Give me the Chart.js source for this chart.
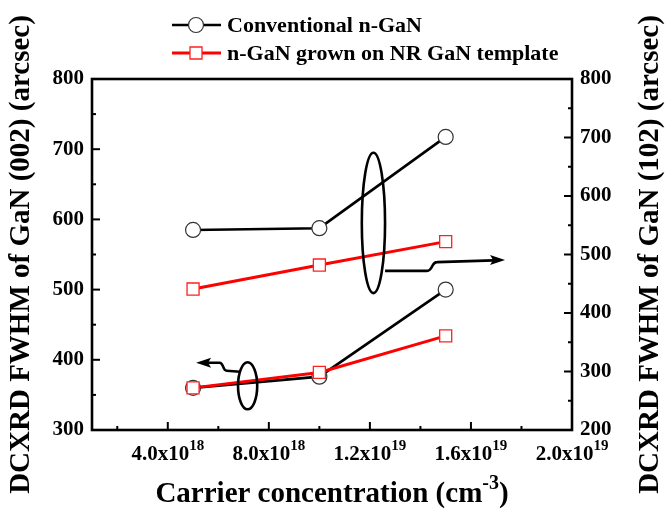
<!DOCTYPE html>
<html><head><meta charset="utf-8">
<script src="https://cdn.jsdelivr.net/npm/chart.js@4"></script>
<style>html,body{margin:0;padding:0;background:#fff}#wrap{width:666px;height:508px}</style>
</head><body><div id="wrap"><canvas id="c" width="666" height="508"></canvas></div>
<script>
// ---- data ----
const carrier = [5e18, 1e19, 1.5e19];
const conv002 = [360, 376, 500];
const nr002 = [360, 382, 434];
const conv102 = [542, 545, 701];
const nr102 = [441, 482, 522];
const xTickValues = [4e18, 8e18, 1.2e19, 1.6e19, 2.0e19];
const xTickBases = ['4.0x10', '8.0x10', '1.2x10', '1.6x10', '2.0x10'];
const xTickExps = ['18', '18', '19', '19', '19'];
const seriesNames = ['Conventional n-GaN', 'n-GaN grown on NR GaN template'];
const xTitleBase = 'Carrier concentration (cm';
const xTitleExp = '-3';
const xTitleEnd = ')';
const yTitle = 'DCXRD FWHM of GaN (002) (arcsec)';
const y1Title = 'DCXRD FWHM of GaN (102) (arcsec)';

const FONT = '"Liberation Serif", "Times New Roman", serif';
const toXY = (ys) => carrier.map((c, i) => ({x: c, y: ys[i]}));

const black = {borderColor: '#000', pointStyle: 'circle', pointRadius: 7.5, pointBorderWidth: 1.2,
  pointBackgroundColor: '#fff', pointBorderColor: '#333', borderWidth: 2.6, order: 2};
const red = {borderColor: '#ff0000', pointStyle: 'rect', pointRadius: 8.5, pointBorderWidth: 1.3,
  pointBackgroundColor: '#fff', pointBorderColor: '#ff2020', borderWidth: 3, order: 1};

// legend drawn as line + marker + text
const legendPlugin = {
  id: 'legend2',
  afterDraw(chart) {
    const ctx = chart.ctx;
    const styles = [black, red];
    ctx.save();
    seriesNames.forEach((name, i) => {
      const yy = 25 + i * 28;
      const st = styles[i];
      ctx.strokeStyle = st.borderColor; ctx.lineWidth = st.borderWidth;
      ctx.beginPath(); ctx.moveTo(172, yy); ctx.lineTo(221, yy); ctx.stroke();
      ctx.fillStyle = st.pointBackgroundColor; ctx.strokeStyle = st.pointBorderColor; ctx.lineWidth = st.pointBorderWidth;
      ctx.beginPath();
      if (st.pointStyle === 'circle') ctx.arc(196, yy, st.pointRadius, 0, Math.PI * 2);
      else { const h = st.pointRadius * Math.SQRT1_2; ctx.rect(196 - h, yy - h, 2 * h, 2 * h); }
      ctx.fill(); ctx.stroke();
      ctx.fillStyle = '#000'; ctx.font = 'bold 22px ' + FONT; ctx.textBaseline = 'middle'; ctx.textAlign = 'left';
      ctx.fillText(name, 227, yy + 1);
    });
    ctx.restore();
  }
};

// draw text with a superscript part, centred on cx, baseline at by
function supText(ctx, cx, by, base, exp, end, size, expSize, rise) {
  ctx.font = 'bold ' + size + 'px ' + FONT;
  const wb = ctx.measureText(base).width, we2 = end ? ctx.measureText(end).width : 0;
  ctx.font = 'bold ' + expSize + 'px ' + FONT;
  const we = ctx.measureText(exp).width;
  let x0 = cx - (wb + we + we2) / 2;
  ctx.textAlign = 'left'; ctx.textBaseline = 'alphabetic'; ctx.fillStyle = '#000';
  ctx.font = 'bold ' + size + 'px ' + FONT; ctx.fillText(base, x0, by);
  ctx.font = 'bold ' + expSize + 'px ' + FONT; ctx.fillText(exp, x0 + wb, by - rise);
  if (end) { ctx.font = 'bold ' + size + 'px ' + FONT; ctx.fillText(end, x0 + wb + we, by); }
}

// frame, inward ticks, tick labels with exponents, titles, annotations
const framePlugin = {
  id: 'frame',
  afterDatasetsDraw(chart) {
    const {ctx, chartArea: a, scales: {x, y, y1}} = chart;
    ctx.save();
    ctx.strokeStyle = '#000'; ctx.lineWidth = 2.6; ctx.lineCap = 'butt';
    ctx.strokeRect(a.left, a.top, a.right - a.left, a.bottom - a.top);
    ctx.lineWidth = 2;
    for (let v = 2e18; v <= 2.0e19 + 1; v += 2e18) {
      const px = x.getPixelForValue(v);
      const major = Math.abs((v / 4e18) - Math.round(v / 4e18)) < 1e-6;
      ctx.beginPath(); ctx.moveTo(px, a.bottom); ctx.lineTo(px, a.bottom - (major ? 8 : 4)); ctx.stroke();
    }
    for (let v = 300; v <= 800; v += 50) {
      const py = y.getPixelForValue(v); const major = v % 100 === 0;
      ctx.beginPath(); ctx.moveTo(a.left, py); ctx.lineTo(a.left + (major ? 8 : 4), py); ctx.stroke();
    }
    for (let v = 200; v <= 800; v += 50) {
      const py = y1.getPixelForValue(v); const major = v % 100 === 0;
      ctx.beginPath(); ctx.moveTo(a.right, py); ctx.lineTo(a.right - (major ? 8 : 4), py); ctx.stroke();
    }
    // x tick labels
    xTickValues.forEach((v, i) => supText(ctx, x.getPixelForValue(v), a.bottom + 30, xTickBases[i], xTickExps[i], '', 21, 15, 10));
    // x title
    supText(ctx, (a.left + a.right) / 2, 502, xTitleBase, xTitleExp, xTitleEnd, 29, 20, 13);
    // annotations (in data units)
    ctx.lineWidth = 2.6;
    const ell = (sx, sy, cx, cy, rx, ry) => {
      const px = sx.getPixelForValue(cx), py = sy.getPixelForValue(cy);
      const w = Math.abs(sx.getPixelForValue(cx + rx) - px), h = Math.abs(sy.getPixelForValue(cy + ry) - py);
      ctx.beginPath(); ctx.ellipse(px, py, w, h, 0, 0, Math.PI * 2); ctx.stroke();
    };
    const arrow = (sy, pts, tip) => {
      const P = pts.map(p => [x.getPixelForValue(p[0]), sy.getPixelForValue(p[1])]);
      const T = [x.getPixelForValue(tip[0]), sy.getPixelForValue(tip[1])];
      ctx.beginPath(); ctx.moveTo(P[0][0], P[0][1]);
      ctx.lineTo(P[1][0], P[1][1]);
      ctx.bezierCurveTo(P[1][0] + (P[2][0] - P[1][0]) * 0.6, P[1][1], P[1][0] + (P[2][0] - P[1][0]) * 0.4, P[2][1], P[2][0], P[2][1]);
      ctx.lineTo(P[3][0], P[3][1]); ctx.stroke();
      const dir = Math.sign(T[0] - P[3][0]);
      ctx.beginPath(); ctx.moveTo(T[0], T[1]);
      ctx.lineTo(T[0] - dir * 15, T[1] - 5); ctx.lineTo(T[0] - dir * 12, T[1]); ctx.lineTo(T[0] - dir * 15, T[1] + 5);
      ctx.closePath(); ctx.fillStyle = '#000'; ctx.fill();
    };
    ell(x, y1, 1.214e19, 554, 0.46e18, 120);
    arrow(y1, [[12.6e18, 472], [14.26e18, 472], [14.66e18, 487], [16.9e18, 490]], [17.35e18, 490.6]);
    ell(x, y, 7.16e18, 363, 0.38e18, 33.5);
    arrow(y, [[6.86e18, 383], [6.33e18, 384.5], [6.05e18, 395.9], [5.5e18, 395.9]], [5.12e18, 395.9]);
    // y titles, reading bottom-to-top
    [[22, yTitle], [651, y1Title]].forEach(([tx, t]) => {
      ctx.save();
      ctx.translate(tx, (a.top + a.bottom) / 2);
      ctx.rotate(-Math.PI / 2);
      ctx.fillStyle = '#000'; ctx.font = 'bold 29px ' + FONT; ctx.textAlign = 'center'; ctx.textBaseline = 'middle';
      ctx.fillText(t, 0, 0);
      ctx.restore();
    });
    ctx.restore();
  }
};

new Chart(document.getElementById('c'), {
  type: 'line',
  data: {
    datasets: [
      Object.assign({label: seriesNames[0] + ' (002)', data: toXY(conv002), yAxisID: 'y'}, black),
      Object.assign({label: seriesNames[1] + ' (002)', data: toXY(nr002), yAxisID: 'y'}, red),
      Object.assign({label: seriesNames[0] + ' (102)', data: toXY(conv102), yAxisID: 'y1'}, black),
      Object.assign({label: seriesNames[1] + ' (102)', data: toXY(nr102), yAxisID: 'y1'}, red)
    ]
  },
  options: {
    responsive: false, animation: false, devicePixelRatio: 1,
    layout: {padding: {top: 79, left: 0, right: 0, bottom: 0}},
    plugins: {legend: {display: false}, tooltip: {enabled: false}},
    elements: {line: {tension: 0}},
    scales: {
      x: {
        type: 'linear', min: 1e18, max: 2.0e19,
        afterBuildTicks: s => { s.ticks = xTickValues.map(v => ({value: v})); },
        afterFit: s => { s.height = 78; },
        grid: {display: false, drawTicks: false},
        border: {display: false},
        ticks: {display: false},
        title: {display: false}
      },
      y: {
        type: 'linear', position: 'left', min: 300, max: 800,
        afterFit: s => { s.width = 92; },
        grid: {display: false, drawTicks: false}, border: {display: false},
        ticks: {stepSize: 100, padding: 8, color: '#000', font: {family: FONT, size: 21, weight: 'bold'}},
        title: {display: false}
      },
      y1: {
        type: 'linear', position: 'right', min: 200, max: 800,
        afterFit: s => { s.width = 94; },
        grid: {display: false, drawTicks: false}, border: {display: false},
        ticks: {stepSize: 100, padding: 8, color: '#000', font: {family: FONT, size: 21, weight: 'bold'}}
      }
    }
  },
  plugins: [legendPlugin, framePlugin]
});
</script>
</body></html>
